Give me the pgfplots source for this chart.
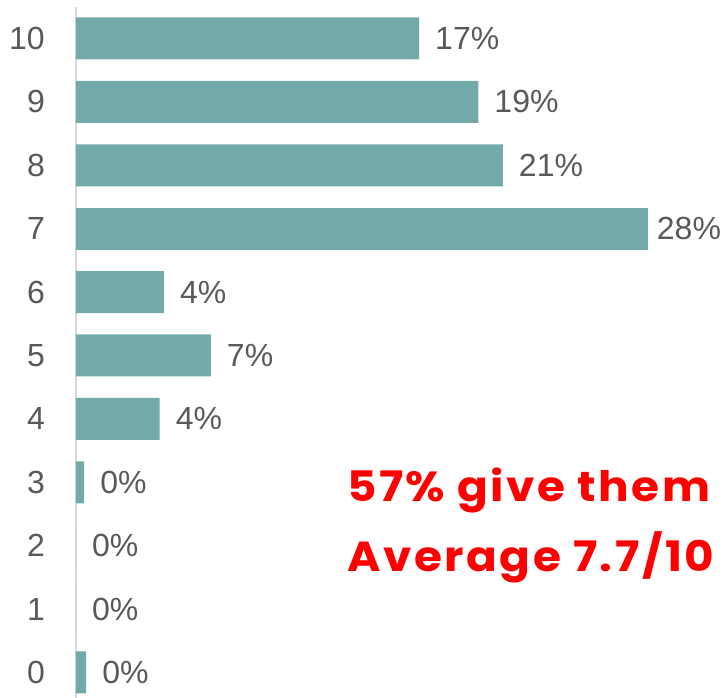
\documentclass[border=0pt]{standalone}
\usepackage{fontspec}
\setmainfont{Liberation Sans}
\newfontfamily\notefont{Poppins}[FakeStretch=1.08, LetterSpace=6]
\usepackage{pgfplots}
\usepackage{pgfplotstable}
\pgfplotsset{compat=1.18}
\definecolor{barc}{HTML}{72A9A9}
\definecolor{txt}{HTML}{595959}
\definecolor{axl}{HTML}{D9D9D9}

% score, share (%), printed label
\pgfplotstableread{
cat val lab
0 0.5 0
1 0 0
2 0 0
3 0.4 0
4 4.1 4
5 6.6 7
6 4.3 4
8 20.9 21
9 19.7 19
10 16.8 17
}\others
\pgfplotstableread{
cat val lab
7 28.0 28
}\seven

\begin{document}
\begin{tikzpicture}
\useasboundingbox (0,0) rectangle (723pt,698pt);
\clip (0,0) rectangle (723pt,698pt);
\begin{axis}[
    at={(76pt,-6.2pt)}, anchor=south west,
    scale only axis, width=633pt, height=697.4pt,
    xbar, bar width=42pt, bar shift=0pt,
    xmin=0, xmax=31, ymin=-0.5, ymax=10.5,
    hide x axis,
    axis y line*=left,
    y axis line style={draw=axl, line width=2pt},
    ytick={0,...,10}, major tick length=0pt,
    yticklabel style={font=\fontsize{32}{38}\selectfont, text=txt, inner sep=0pt, xshift=-31pt},
    /pgf/number format/assume math mode=true,
    nodes near coords style={font=\fontsize{32}{38}\selectfont, text=txt, inner sep=0pt, anchor=west},
]
\addplot[fill=barc, draw=none] table[x=val, y=cat] {\others};
\addplot[fill=barc, draw=none] table[x=val, y=cat] {\seven};
\addplot[draw=none, fill=none, point meta=explicit,
    nodes near coords={\pgfmathprintnumber{\pgfplotspointmeta}\%},
    nodes near coords style={xshift=16pt}]
    table[x=val, y=cat, meta=lab] {\others};
\addplot[draw=none, fill=none, point meta=explicit,
    nodes near coords={\pgfmathprintnumber{\pgfplotspointmeta}\%},
    nodes near coords style={xshift=9pt}]
    table[x=val, y=cat, meta=lab] {\seven};
\end{axis}
\node[anchor=base west, inner sep=0pt, text=red, font=\notefont\bfseries\fontsize{42}{50}\selectfont] at (347pt,196pt) {57\% give them a score of 8+};
\node[anchor=base west, inner sep=0pt, text=red, font=\notefont\bfseries\fontsize{42}{50}\selectfont] at (347pt,126pt) {Average 7.7/10};
\end{tikzpicture}
\end{document}
